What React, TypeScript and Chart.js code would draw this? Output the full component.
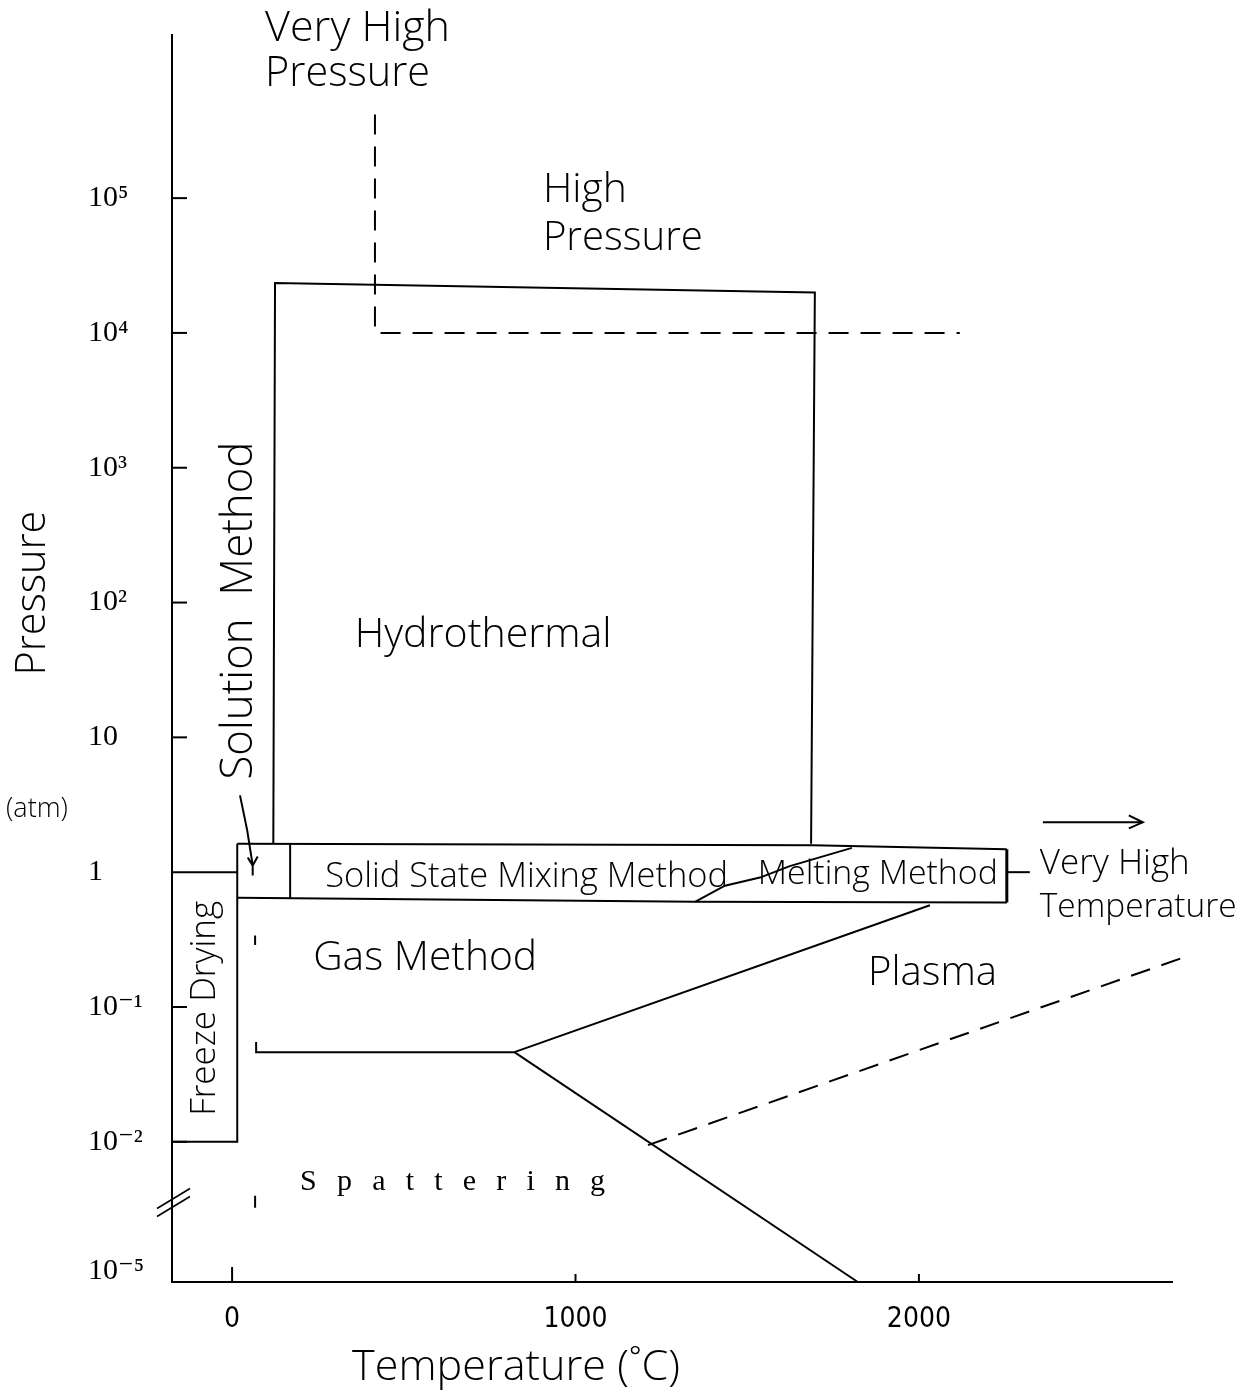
import React, { useEffect, useRef } from "react";
import { Chart, registerables } from "chart.js";

Chart.register(...registerables);

// ---------- axis ticks ----------
const xTickValues = [0, 1000, 2000];
const xTickLabels = ["0", "1000", "2000"];
// y is measured in decades of pressure (atm); below 10^-2 the axis is broken
const yTickValues = [-2.96, -2, -1, 0, 1, 2, 3, 4, 5];
const yTickLabels = ["10⁻⁵", "10⁻²", "10⁻¹", "1", "10", "10²", "10³", "10⁴", "10⁵"];

// ---------- region boundaries (temperature °C, pressure level in decades) ----------
const hydroT = [120, 125, 1697, 1686];
const hydroP = [0.21, 4.37, 4.3, 0.21];

const freezeTopT = [-175, 15];
const freezeTopP = [0, 0];
const freezeSideT = [15, 15, -175];
const freezeSideP = [0.21, -2, -2];

const bandTopT = [15, 1690, 2256];
const bandTopP = [0.21, 0.2, 0.17];
const bandBottomT = [15, 1348, 2256];
const bandBottomP = [-0.19, -0.22, -0.225];
const bandRightT = [2256, 2256];
const bandRightP = [0.17, -0.225];

const solutionDividerT = [169, 169];
const solutionDividerP = [0.21, -0.19];

const meltingDividerT = [1348, 1435, 1537, 1624, 1805];
const meltingDividerP = [-0.22, -0.1, -0.04, 0.045, 0.18];

const connectorT = [2256, 2323];
const connectorP = [0, 0];

const vhtArrowT = [2361, 2652];
const vhtArrowP = [0.37, 0.37];

const gasLineT = [70, 70, 822];
const gasLineP = [-1.26, -1.335, -1.335];

const plasmaUpperT = [822, 2032];
const plasmaUpperP = [-1.335, -0.245];

const spatterBoundT = [822, 1822];
const spatterBoundP = [-1.335, -3.04];

const plasmaDashT = [1211, 2789];
const plasmaDashP = [-2.025, -0.616];

const vhpDashT = [416, 416, 2119];
const vhpDashP = [5.62, 4.0, 4.0];

const markAT = [67, 67];
const markAP = [-0.47, -0.54];
const markBT = [67, 67];
const markBP = [-2.4, -2.49];

const solutionArrowT = [23, 44, 60];
const solutionArrowP = [0.57, 0.31, 0.05];

// ---------- region labels ----------
const labelTexts = [
  "Very High", "Pressure", "High", "Pressure", "Hydrothermal", "Solution  Method",
  "Solid State Mixing Method", "Melting Method", "Very High", "Temperature",
  "Gas Method", "Plasma", "Freeze Drying",
];
const labelT = [96, 96, 905, 905, 731, 23, 271, 1531, 2352, 2352, 236, 1852, -79];
const labelP = [6.26, 5.92, 5.06, 4.7, 1.76, 1.94, -0.04, -0.015, 0.06, -0.26, -0.64, -0.75, -1.01];
const spatterText = "Spattering";
const spatterT = 198;
const spatterP = -2.3;

const pts = (t: number[], p: number[]) => t.map((x, i) => ({ x, y: p[i] }));

const SANS = '"Open Sans", "Liberation Sans", sans-serif';
const SERIF = '"Liberation Serif", "DejaVu Serif", serif';

// style per label: [pixel width, anchor, rotated]
const labelStyles: [number, string, boolean][] = [
  [185, "left", false],
  [165, "left", false],
  [84, "left", false],
  [160, "left", false],
  [257, "center", false],
  [338, "center", true],
  [403, "left", false],
  [240, "left", false],
  [150, "left", false],
  [197, "left", false],
  [224, "left", false],
  [129, "left", false],
  [215, "center", true],
];

function fitFont(ctx: CanvasRenderingContext2D, text: string, width: number, family: string, weight: string) {
  ctx.font = `${weight} 40px ${family}`;
  const w = ctx.measureText(text).width;
  const size = (40 * width) / w;
  ctx.font = `${weight} ${size}px ${family}`;
  return size;
}

const overlayPlugin = {
  id: "overlay",
  afterDraw(chart: any) {
    const ctx: CanvasRenderingContext2D = chart.ctx;
    const xs = chart.scales.x;
    const ys = chart.scales.y;
    const area = chart.chartArea;
    ctx.save();
    ctx.strokeStyle = "#000";
    ctx.fillStyle = "#000";
    ctx.lineWidth = 2;

    // inward tick marks
    xs.ticks.forEach((t: any, i: number) => {
      const px = xs.getPixelForValue(t.value);
      ctx.beginPath();
      ctx.moveTo(px, area.bottom);
      ctx.lineTo(px, area.bottom - (i === 0 ? 15 : 8));
      ctx.stroke();
    });
    ys.ticks.forEach((t: any) => {
      if (t.value === 0 || t.value < -2.5) return;
      const py = ys.getPixelForValue(t.value);
      ctx.beginPath();
      ctx.moveTo(area.left, py);
      ctx.lineTo(area.left + 15, py);
      ctx.stroke();
    });

    // axis break marks
    const by = ys.getPixelForValue(-2.45);
    ctx.lineWidth = 1.6;
    [-4, 4].forEach((o) => {
      ctx.beginPath();
      ctx.moveTo(area.left - 15, by + 10 + o);
      ctx.lineTo(area.left + 18, by - 10 + o);
      ctx.stroke();
    });
    ctx.lineWidth = 2;

    // arrowhead for "Very High Temperature"
    const ax = xs.getPixelForValue(vhtArrowT[1]);
    const ay = ys.getPixelForValue(vhtArrowP[1]);
    ctx.beginPath();
    ctx.moveTo(ax - 14, ay - 7);
    ctx.lineTo(ax, ay);
    ctx.lineTo(ax - 14, ay + 6);
    ctx.stroke();

    // "Y" arrowhead of Solution Method pointer
    const sx = xs.getPixelForValue(solutionArrowT[2]);
    const sy = ys.getPixelForValue(solutionArrowP[2]);
    ctx.beginPath();
    ctx.moveTo(sx - 5, sy - 8);
    ctx.lineTo(sx, sy);
    ctx.lineTo(sx + 5, sy - 9);
    ctx.moveTo(sx, sy);
    ctx.lineTo(sx, sy + 10);
    ctx.stroke();

    // region labels
    ctx.textBaseline = "middle";
    labelTexts.forEach((text, i) => {
      const [w, anchor, rot] = labelStyles[i];
      const px = xs.getPixelForValue(labelT[i]);
      const py = ys.getPixelForValue(labelP[i]);
      fitFont(ctx, text, w, SANS, "300");
      ctx.save();
      ctx.translate(px, py);
      if (rot) ctx.rotate(-Math.PI / 2);
      ctx.textAlign = anchor as CanvasTextAlign;
      ctx.fillText(text, 0, 0);
      ctx.restore();
    });

    // letter-spaced "Spattering"
    ctx.font = `30px ${SERIF}`;
    ctx.textAlign = "left";
    const chars = spatterText.split("");
    const natural = chars.reduce((s, c) => s + ctx.measureText(c).width, 0);
    const gap = (305 - natural) / (chars.length - 1);
    let cx = xs.getPixelForValue(spatterT);
    const cy = ys.getPixelForValue(spatterP);
    chars.forEach((c) => {
      ctx.fillText(c, cx, cy);
      cx += ctx.measureText(c).width + gap;
    });

    // axis titles
    fitFont(ctx, "Pressure", 165, SANS, "300");
    ctx.save();
    ctx.translate(33, ys.getPixelForValue(2.07));
    ctx.rotate(-Math.PI / 2);
    ctx.textAlign = "center";
    ctx.fillText("Pressure", 0, 0);
    ctx.restore();

    ctx.font = `300 27px ${SANS}`;
    ctx.textAlign = "left";
    ctx.fillText("(atm)", 6, ys.getPixelForValue(0.47));

    fitFont(ctx, "Temperature (˚C)", 328, SANS, "300");
    ctx.textAlign = "center";
    ctx.fillText("Temperature (˚C)", 516, area.bottom + 86);

    ctx.restore();
  },
};

export default function App() {
  const ref = useRef<HTMLCanvasElement | null>(null);
  useEffect(() => {
    if (!ref.current) return;
    const solid = (t: number[], p: number[]) => ({
      data: pts(t, p),
      showLine: true,
      borderColor: "#000",
      borderWidth: 2,
      pointRadius: 0,
      tension: 0,
      fill: false,
      clip: false as any,
    });
    const dashed = (t: number[], p: number[]) => ({ ...solid(t, p), borderDash: [20, 12] });
    const chart = new Chart(ref.current, {
      type: "scatter",
      data: {
        datasets: [
          solid(hydroT, hydroP),
          solid(freezeTopT, freezeTopP),
          solid(freezeSideT, freezeSideP),
          solid(bandTopT, bandTopP),
          solid(bandBottomT, bandBottomP),
          { ...solid(bandRightT, bandRightP), borderWidth: 3 },
          solid(solutionDividerT, solutionDividerP),
          solid(meltingDividerT, meltingDividerP),
          solid(connectorT, connectorP),
          solid(vhtArrowT, vhtArrowP),
          solid(gasLineT, gasLineP),
          solid(plasmaUpperT, plasmaUpperP),
          solid(spatterBoundT, spatterBoundP),
          dashed(plasmaDashT, plasmaDashP),
          dashed(vhpDashT, vhpDashP),
          solid(markAT, markAP),
          solid(markBT, markBP),
          solid(solutionArrowT, solutionArrowP),
        ],
      },
      options: {
        animation: false,
        responsive: false,
        maintainAspectRatio: false,
        layout: { padding: { left: 88, top: 35, right: 83, bottom: 0 } },
        plugins: { legend: { display: false }, tooltip: { enabled: false } },
        scales: {
          x: {
            type: "linear",
            min: -175,
            max: 2737,
            grid: { display: false },
            border: { display: true, color: "#000", width: 2 },
            ticks: {
              autoSkip: false,
              padding: 13,
              color: "#000",
              font: { family: '"Liberation Sans Narrow", "DejaVu Sans Condensed", sans-serif', size: 28 },
              callback: (_v: any, i: number) => xTickLabels[i],
            },
            afterBuildTicks: (s: any) => {
              s.ticks = xTickValues.map((v) => ({ value: v }));
            },
            afterFit: (s: any) => {
              s.height = 112;
            },
          },
          y: {
            type: "linear",
            min: -3.04,
            max: 6.21,
            grid: { display: false },
            border: { display: true, color: "#000", width: 2 },
            ticks: {
              autoSkip: false,
              crossAlign: "far",
              color: "#000",
              font: { family: SERIF, size: 30 },
              callback: (_v: any, i: number) => yTickLabels[i],
            },
            afterBuildTicks: (s: any) => {
              s.ticks = yTickValues.map((v) => ({ value: v }));
            },
            afterFit: (s: any) => {
              s.width = 84;
            },
          },
        },
      },
      plugins: [overlayPlugin],
    });
    return () => chart.destroy();
  }, []);
  return (
    <div style={{ position: "absolute", left: 0, top: 0, width: 1255, height: 1394, background: "#fff" }}>
      <canvas ref={ref} width={1255} height={1394} />
    </div>
  );
}
